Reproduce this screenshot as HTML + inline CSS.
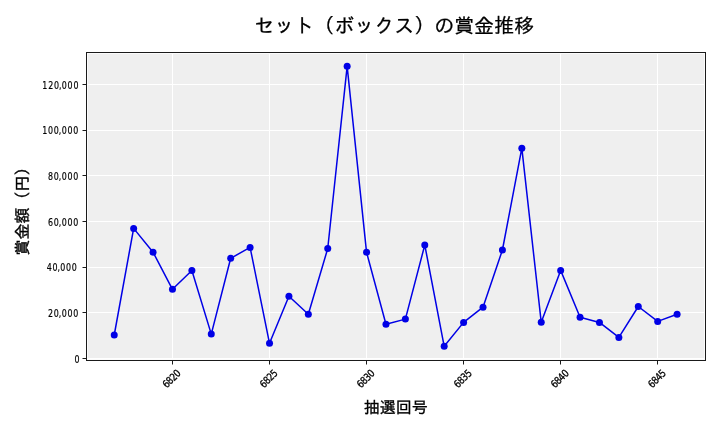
<!DOCTYPE html>
<html><head><meta charset="utf-8"><title>セット（ボックス）の賞金推移</title>
<style>
html,body{margin:0;padding:0;background:#fff;}
body{width:720px;height:432px;overflow:hidden;}
svg{display:block;will-change:transform;}
.tk{font-family:"DejaVu Sans","Liberation Sans",sans-serif;font-size:10.3px;fill:#000;stroke:#000;stroke-width:0.2px;}
.tx{stroke-width:0.3px;}
.ttl{font-family:"Liberation Sans","IPAGothic",sans-serif;font-size:20px;fill:#000;stroke:#000;stroke-width:0.25px;}
.lab{font-family:"Liberation Sans","IPAGothic",sans-serif;font-size:16px;fill:#000;stroke:#000;stroke-width:0.35px;}
</style></head>
<body>
<svg width="720" height="432" viewBox="0 0 720 432">
<rect x="87.0" y="53.0" width="618.0" height="307.0" fill="#fbfbfb"/>
<rect x="88.0" y="54.0" width="616.0" height="305.0" fill="#efefef"/>
<path d="M172.5 54.0V359.0M269.5 54.0V359.0M366.5 54.0V359.0M463.5 54.0V359.0M560.5 54.0V359.0M657.5 54.0V359.0M88.0 358.5H704.0M88.0 312.5H704.0M88.0 267.5H704.0M88.0 221.5H704.0M88.0 175.5H704.0M88.0 130.5H704.0M88.0 84.5H704.0" stroke="#ffffff" stroke-width="1" fill="none"/>
<polyline points="114.24,335.00 133.65,228.40 153.06,252.20 172.47,289.30 191.88,270.50 211.28,334.10 230.69,258.30 250.10,247.40 269.51,343.30 288.92,296.20 308.33,314.20 327.74,248.50 347.15,66.30 366.56,252.30 385.97,324.30 405.38,319.10 424.78,245.00 444.19,346.30 463.60,322.40 483.01,307.20 502.42,250.00 521.83,148.20 541.24,322.30 560.65,270.40 580.06,317.30 599.46,322.40 618.87,337.40 638.28,306.50 657.69,321.40 677.10,314.30" fill="none" stroke="#0000e6" stroke-width="1.5" stroke-linejoin="round"/>
<circle cx="114.24" cy="335.00" r="3.5" fill="#0000e6"/>
<circle cx="133.65" cy="228.40" r="3.5" fill="#0000e6"/>
<circle cx="153.06" cy="252.20" r="3.5" fill="#0000e6"/>
<circle cx="172.47" cy="289.30" r="3.5" fill="#0000e6"/>
<circle cx="191.88" cy="270.50" r="3.5" fill="#0000e6"/>
<circle cx="211.28" cy="334.10" r="3.5" fill="#0000e6"/>
<circle cx="230.69" cy="258.30" r="3.5" fill="#0000e6"/>
<circle cx="250.10" cy="247.40" r="3.5" fill="#0000e6"/>
<circle cx="269.51" cy="343.30" r="3.5" fill="#0000e6"/>
<circle cx="288.92" cy="296.20" r="3.5" fill="#0000e6"/>
<circle cx="308.33" cy="314.20" r="3.5" fill="#0000e6"/>
<circle cx="327.74" cy="248.50" r="3.5" fill="#0000e6"/>
<circle cx="347.15" cy="66.30" r="3.5" fill="#0000e6"/>
<circle cx="366.56" cy="252.30" r="3.5" fill="#0000e6"/>
<circle cx="385.97" cy="324.30" r="3.5" fill="#0000e6"/>
<circle cx="405.38" cy="319.10" r="3.5" fill="#0000e6"/>
<circle cx="424.78" cy="245.00" r="3.5" fill="#0000e6"/>
<circle cx="444.19" cy="346.30" r="3.5" fill="#0000e6"/>
<circle cx="463.60" cy="322.40" r="3.5" fill="#0000e6"/>
<circle cx="483.01" cy="307.20" r="3.5" fill="#0000e6"/>
<circle cx="502.42" cy="250.00" r="3.5" fill="#0000e6"/>
<circle cx="521.83" cy="148.20" r="3.5" fill="#0000e6"/>
<circle cx="541.24" cy="322.30" r="3.5" fill="#0000e6"/>
<circle cx="560.65" cy="270.40" r="3.5" fill="#0000e6"/>
<circle cx="580.06" cy="317.30" r="3.5" fill="#0000e6"/>
<circle cx="599.46" cy="322.40" r="3.5" fill="#0000e6"/>
<circle cx="618.87" cy="337.40" r="3.5" fill="#0000e6"/>
<circle cx="638.28" cy="306.50" r="3.5" fill="#0000e6"/>
<circle cx="657.69" cy="321.40" r="3.5" fill="#0000e6"/>
<circle cx="677.10" cy="314.30" r="3.5" fill="#0000e6"/>
<rect x="86.5" y="52.5" width="619.0" height="308.0" fill="none" stroke="#1a1a1a" stroke-width="1"/>
<path d="M172.5 360.5v4M269.5 360.5v4M366.5 360.5v4M463.5 360.5v4M560.5 360.5v4M657.5 360.5v4M86.5 358.5h-4M86.5 312.5h-4M86.5 267.5h-4M86.5 221.5h-4M86.5 175.5h-4M86.5 130.5h-4M86.5 84.5h-4" stroke="#1a1a1a" stroke-width="1" fill="none"/>
<text class="tk" transform="translate(0,362.55) scale(0.77,1)" x="96.73" y="0">0</text>
<text class="tk" transform="translate(0,316.90) scale(0.77,1)" x="62.44 69.97 76.35 80.10 87.64 95.17" y="0">20,000</text>
<text class="tk" transform="translate(0,271.25) scale(0.77,1)" x="60.62 68.15 74.53 78.28 85.82 93.35" y="0">40,000</text>
<text class="tk" transform="translate(0,225.60) scale(0.77,1)" x="62.44 69.97 76.35 80.10 87.64 95.17" y="0">60,000</text>
<text class="tk" transform="translate(0,179.95) scale(0.77,1)" x="62.44 69.97 76.35 80.10 87.64 95.17" y="0">80,000</text>
<text class="tk" transform="translate(0,134.30) scale(0.77,1)" x="54.91 62.44 69.97 76.35 80.10 87.64 95.17" y="0">100,000</text>
<text class="tk" transform="translate(0,88.65) scale(0.77,1)" x="55.04 62.57 70.10 76.48 80.23 87.77 95.30" y="0">120,000</text>
<text class="tk tx" transform="translate(166.84,388.44) rotate(-45) scale(0.85,1)" x="0.00 5.88 11.76 17.65" y="0">6820</text>
<text class="tk tx" transform="translate(263.95,388.38) rotate(-45) scale(0.85,1)" x="0.00 5.88 11.76 17.65" y="0">6825</text>
<text class="tk tx" transform="translate(360.93,388.44) rotate(-45) scale(0.85,1)" x="0.00 5.88 11.76 17.65" y="0">6830</text>
<text class="tk tx" transform="translate(458.04,388.38) rotate(-45) scale(0.85,1)" x="0.00 5.88 11.76 17.65" y="0">6835</text>
<text class="tk tx" transform="translate(555.02,388.44) rotate(-45) scale(0.85,1)" x="0.00 5.88 11.76 17.65" y="0">6840</text>
<text class="tk tx" transform="translate(652.13,388.38) rotate(-45) scale(0.85,1)" x="0.00 5.88 11.76 17.65" y="0">6845</text>
<text class="ttl" x="394.20" y="32.5" text-anchor="middle">セット（ボックス）の賞金推移</text>
<text class="lab" x="395.70" y="413" text-anchor="middle">抽選回号</text>
<text class="lab" transform="translate(28.0,207.50) rotate(-90)" x="0" y="0" text-anchor="middle">賞金額（円）</text>
</svg>
</body></html>
